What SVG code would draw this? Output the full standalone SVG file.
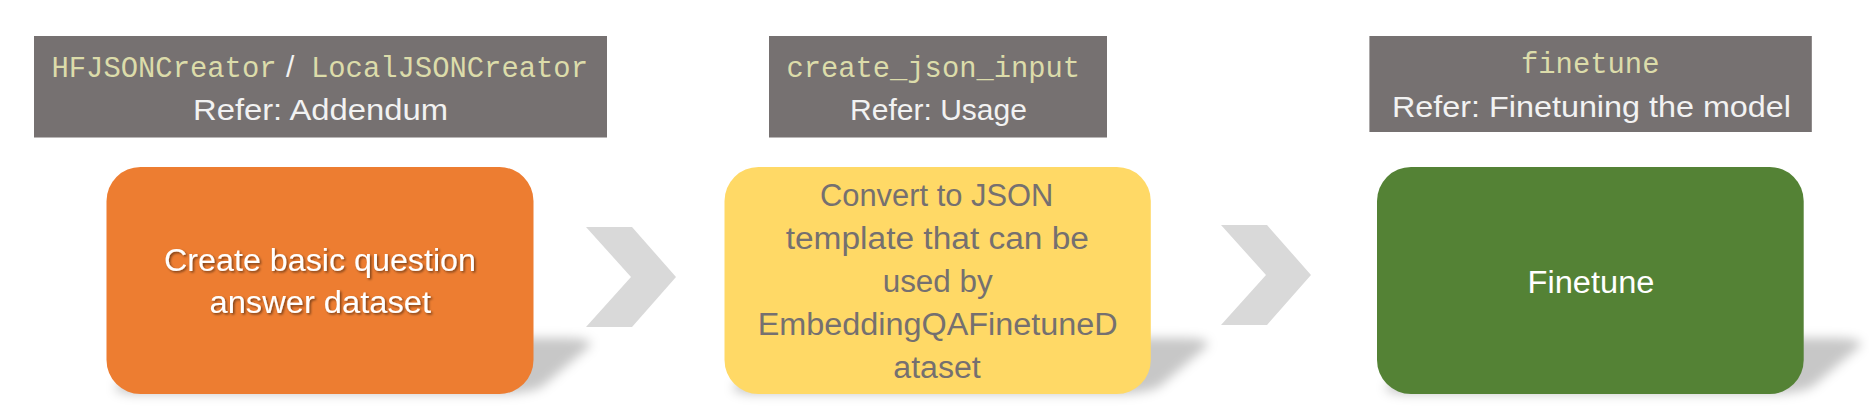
<svg xmlns="http://www.w3.org/2000/svg" width="1869" height="417" viewBox="0 0 1869 417">
<defs>
<filter id="blur" x="-20%" y="-60%" width="140%" height="220%"><feGaussianBlur stdDeviation="5.5"/></filter>
<filter id="tshadow" x="-5%" y="-30%" width="110%" height="160%"><feDropShadow dx="1.5" dy="1.5" stdDeviation="1" flood-color="#000" flood-opacity="0.5"/></filter>
</defs>
<style>
.hdr{fill:#767171}
.code{font-family:"Liberation Mono",monospace;font-size:28.8px;fill:#DCDCAA}
.ref{font-family:"Liberation Sans",Arial,sans-serif;font-size:29px;fill:#F2F2F2}
.body{font-family:"Liberation Sans",Arial,sans-serif;font-size:31px}
.shadow{fill:#000;fill-opacity:0.22}
.chev{fill:#D9D9D9}
</style>
<rect width="1869" height="417" fill="#FFFFFF"/>

<g id="connectors">
<polygon class="chev" points="586,227 632,227 676,277 632,327 586,327 631,277"/>
<polygon class="chev" points="1221,225 1267,225 1311,275 1267,325 1221,325 1266,275"/>
</g>

<g id="header1">
<rect class="hdr" x="34" y="36" width="573" height="101.5"/>
<text class="code" x="51.5" y="76.7" textLength="225" lengthAdjust="spacingAndGlyphs">HFJSONCreator</text>
<text class="ref" x="286" y="76.7" style="font-size:30px">/</text>
<text class="code" x="311" y="76.7" textLength="277" lengthAdjust="spacingAndGlyphs">LocalJSONCreator</text>
<text class="ref" x="193" y="120" textLength="255" lengthAdjust="spacingAndGlyphs">Refer: Addendum</text>
</g>

<g id="header2">
<rect class="hdr" x="769" y="36" width="338" height="101.5"/>
<text class="code" x="786.5" y="76.7" textLength="293.5" lengthAdjust="spacingAndGlyphs">create_json_input</text>
<text class="ref" x="850" y="120" textLength="177" lengthAdjust="spacingAndGlyphs">Refer: Usage</text>
</g>

<g id="header3">
<rect class="hdr" x="1369.4" y="36" width="442.4" height="96"/>
<text class="code" x="1521" y="73.3" textLength="138.5" lengthAdjust="spacingAndGlyphs">finetune</text>
<text class="ref" x="1392" y="116.5" textLength="399" lengthAdjust="spacingAndGlyphs">Refer: Finetuning the model</text>
</g>

<g id="node1">
<g filter="url(#blur)"><rect class="shadow" x="106.5" y="167" width="427" height="227" rx="34" transform="matrix(1,0,-0.29,0.247,114.3,296.7)"/></g>
<rect x="106.5" y="167" width="427" height="227" rx="34" fill="#ED7D31"/>
<g filter="url(#tshadow)" class="body" fill="#FFFFFF">
<text x="164" y="270.7" textLength="312" lengthAdjust="spacingAndGlyphs">Create basic question</text>
<text x="209.5" y="313.3" textLength="221.5" lengthAdjust="spacingAndGlyphs">answer dataset</text>
</g>
</g>

<g id="node2">
<g filter="url(#blur)"><rect class="shadow" x="724.5" y="167" width="426.3" height="227" rx="34" transform="matrix(1,0,-0.29,0.247,114.3,296.7)"/></g>
<rect x="724.5" y="167" width="426.3" height="227" rx="34" fill="#FFD966"/>
<g class="body" fill="#757070">
<text x="820" y="205.7" textLength="233.3" lengthAdjust="spacingAndGlyphs">Convert to JSON</text>
<text x="785.7" y="249.3" textLength="303.3" lengthAdjust="spacingAndGlyphs">template that can be</text>
<text x="882.7" y="291.7" textLength="110" lengthAdjust="spacingAndGlyphs">used by</text>
<text x="757.7" y="335" textLength="360" lengthAdjust="spacingAndGlyphs">EmbeddingQAFinetuneD</text>
<text x="893.3" y="378.3" textLength="87.4" lengthAdjust="spacingAndGlyphs">ataset</text>
</g>
</g>

<g id="node3">
<g filter="url(#blur)"><rect class="shadow" x="1377" y="167" width="426.7" height="227" rx="34" transform="matrix(1,0,-0.29,0.247,114.3,296.7)"/></g>
<rect x="1377" y="167" width="426.7" height="227" rx="34" fill="#548235"/>
<text class="body" fill="#FFFFFF" x="1527.6" y="292.7" textLength="126.8" lengthAdjust="spacingAndGlyphs">Finetune</text>
</g>
</svg>
